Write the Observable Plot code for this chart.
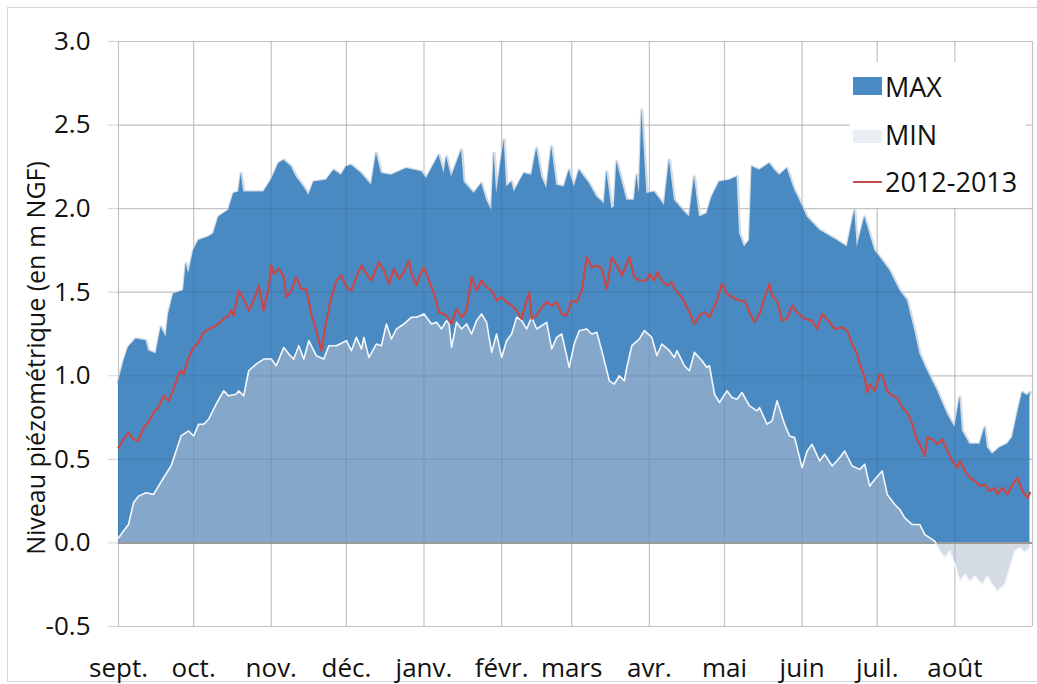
<!DOCTYPE html>
<html><head><meta charset="utf-8">
<script src="https://cdn.jsdelivr.net/npm/d3@7"></script>
<script src="https://cdn.jsdelivr.net/npm/@observablehq/plot@0.6"></script>
<style>
body{margin:0;background:#fff;font-family:"Open Sans",sans-serif;}
#wrap{position:relative;width:1037px;height:684px;overflow:hidden;}
#frame{position:absolute;left:7px;top:7px;width:1040px;height:675px;border:1px solid #d6d6d6;box-sizing:border-box;}
#chart{position:absolute;left:0;top:0;}
#ytitle{position:absolute;left:35px;top:358px;transform:translate(-50%,-50%) rotate(-90deg);white-space:nowrap;font-size:25px;color:#111;}
#legend{position:absolute;left:850px;top:62px;width:176px;height:146px;background:#fff;color:#111;font-size:27px;}
#legend .sw{position:absolute;left:3px;width:29px;}
#legend .lb{position:absolute;left:35px;height:36px;line-height:36px;}
</style>
</head><body>
<div id="wrap"><div id="frame"></div><div id="chart"></div>
<div id="ytitle">Niveau piézométrique (en m NGF)</div>
<div id="legend">
  <div class="sw" style="top:15px;height:18px;background:#4a8ac3"></div><div class="lb" style="top:7px">MAX</div>
  <div class="sw" style="top:68px;height:13px;background:#e9eef4"></div><div class="lb" style="top:55px">MIN</div>
  <div class="sw" style="top:119px;height:2px;background:#c0504d"></div><div class="lb" style="top:102px">2012-2013</div>
</div>
</div>
<script>
const monthLabels = ["sept.","oct.","nov.","déc.","janv.","févr.","mars","avr.","mai","juin","juil.","août"];
const yTicks = [-0.5,0,0.5,1,1.5,2,2.5,3];
const seasonStart = "2012-09-01";

const maxDays = [0,2,4,7,11,12,15,17,19,20,22,26,27,28,30,32,36,38,40,44,46,48,49,50,53,58,61,64,66,69,71,74,76,78,83,86,89,91,93,97,101,103,105,109,115,121,123,128,130,131,133,137,138,142,145,147,149,150,151,154,155,157,158,162,165,167,169,171,173,175,178,180,182,184,188,191,194,195,197,198,199,203,206,207,208,209,211,214,218,220,222,226,228,230,232,235,237,240,244,247,248,250,252,253,256,260,262,264,267,270,272,275,280,287,291,294,295,298,302,304,308,312,315,318,320,323,327,331,334,336,337,340,344,346,347,349,352,355,357,359,361,363,364];
const maxValues = [0.96,1.08,1.17,1.22,1.21,1.15,1.13,1.29,1.23,1.37,1.49,1.51,1.67,1.61,1.75,1.81,1.83,1.85,1.95,1.99,2.09,2.10,2.21,2.10,2.10,2.10,2.17,2.27,2.29,2.25,2.19,2.13,2.08,2.16,2.17,2.23,2.20,2.25,2.26,2.21,2.14,2.33,2.21,2.20,2.24,2.22,2.18,2.32,2.21,2.31,2.19,2.35,2.16,2.09,2.15,2.05,1.99,2.33,2.09,2.41,2.13,2.16,2.10,2.21,2.20,2.36,2.19,2.12,2.37,2.14,2.13,2.23,2.13,2.23,2.15,2.07,2.03,2.22,2.00,2.01,2.28,2.05,2.05,2.20,2.09,2.59,2.09,2.10,2.02,2.29,2.05,1.98,1.95,2.19,1.95,1.97,2.07,2.16,2.17,2.19,1.85,1.77,1.81,2.25,2.23,2.27,2.23,2.20,2.24,2.11,2.05,1.95,1.87,1.81,1.77,1.99,1.77,1.95,1.75,1.71,1.63,1.51,1.45,1.27,1.13,1.03,0.91,0.77,0.69,0.87,0.67,0.59,0.59,0.69,0.57,0.53,0.57,0.59,0.63,0.77,0.90,0.88,0.90];

const minDays = [0,1,4,6,8,11,14,16,18,21,23,25,28,30,32,34,36,39,42,44,47,48,50,52,55,58,61,63,66,68,70,72,74,76,79,82,84,87,91,93,95,97,98,100,103,105,107,109,111,114,117,119,122,125,127,129,131,132,133,135,137,139,141,143,145,147,149,151,153,155,157,159,161,163,165,167,169,171,173,175,177,180,182,184,187,189,191,193,196,198,200,202,203,205,208,210,213,215,217,220,222,223,226,228,230,233,235,236,238,240,243,245,247,249,252,255,256,259,261,263,266,268,270,273,275,277,280,282,285,288,290,293,296,298,300,302,305,307,310,312,314,317,320,322,324,326,328,330,332,334,336,338,340,342,345,347,349,351,354,356,358,360,362,364];
const minValues = [0.03,0.05,0.11,0.24,0.28,0.30,0.29,0.34,0.39,0.46,0.55,0.64,0.67,0.64,0.71,0.71,0.74,0.83,0.91,0.88,0.89,0.91,0.88,1.03,1.07,1.10,1.10,1.06,1.17,1.13,1.10,1.18,1.10,1.21,1.12,1.10,1.18,1.18,1.21,1.15,1.23,1.16,1.23,1.11,1.19,1.18,1.31,1.22,1.28,1.31,1.35,1.35,1.37,1.31,1.32,1.28,1.33,1.31,1.17,1.32,1.28,1.31,1.25,1.33,1.37,1.32,1.14,1.25,1.11,1.21,1.25,1.35,1.33,1.28,1.35,1.28,1.30,1.32,1.16,1.23,1.25,1.05,1.19,1.27,1.28,1.25,1.26,1.15,0.97,0.95,1.00,0.97,1.05,1.18,1.22,1.27,1.23,1.12,1.19,1.15,1.11,1.15,1.06,1.03,1.14,1.09,1.05,1.06,0.89,0.84,0.91,0.87,0.86,0.90,0.82,0.79,0.81,0.71,0.73,0.85,0.71,0.64,0.63,0.45,0.55,0.59,0.49,0.53,0.46,0.51,0.55,0.46,0.44,0.47,0.34,0.38,0.43,0.29,0.23,0.20,0.15,0.11,0.11,0.05,0.03,0.01,-0.05,-0.09,-0.05,-0.13,-0.23,-0.19,-0.23,-0.20,-0.25,-0.20,-0.25,-0.29,-0.25,-0.15,-0.05,-0.03,-0.06,-0.03];

const yearDays = [0,2,4,6,8,10,12,14,16,18,20,22,24,25,26,28,30,32,34,36,39,42,44,45,46,48,50,52,54,56,58,60,61,62,64,66,67,69,71,73,75,77,79,81,83,85,87,89,91,93,95,97,99,101,104,106,108,110,112,114,116,117,119,120,122,124,126,128,131,133,135,137,139,141,143,145,147,149,151,153,155,157,159,161,162,164,165,167,169,171,173,175,177,179,181,183,185,187,189,191,193,195,197,199,201,204,206,208,211,212,214,215,217,219,221,222,225,228,230,232,234,236,239,241,243,245,248,250,252,254,256,258,260,261,263,265,267,269,271,274,277,279,281,284,286,289,291,293,295,296,298,299,300,302,304,305,307,309,311,313,315,317,319,320,322,323,325,327,329,331,333,335,336,338,340,342,344,346,348,350,351,353,355,357,359,361,363,364];
const yearValues = [0.57,0.62,0.66,0.62,0.61,0.69,0.72,0.78,0.81,0.88,0.85,0.92,1.01,1.03,1.01,1.11,1.17,1.20,1.26,1.28,1.30,1.34,1.36,1.39,1.36,1.51,1.46,1.39,1.45,1.54,1.39,1.53,1.66,1.61,1.64,1.59,1.47,1.51,1.59,1.52,1.52,1.37,1.27,1.15,1.33,1.47,1.57,1.60,1.53,1.51,1.59,1.66,1.61,1.57,1.68,1.63,1.55,1.64,1.58,1.62,1.69,1.61,1.54,1.59,1.65,1.57,1.49,1.38,1.36,1.31,1.40,1.35,1.39,1.59,1.51,1.57,1.53,1.51,1.45,1.47,1.44,1.42,1.39,1.34,1.40,1.50,1.34,1.36,1.41,1.44,1.42,1.44,1.37,1.36,1.45,1.44,1.51,1.71,1.65,1.66,1.64,1.52,1.71,1.66,1.60,1.71,1.59,1.57,1.57,1.61,1.57,1.62,1.57,1.54,1.56,1.52,1.47,1.38,1.31,1.36,1.38,1.35,1.45,1.55,1.49,1.47,1.45,1.45,1.38,1.32,1.37,1.47,1.55,1.48,1.45,1.33,1.34,1.42,1.38,1.34,1.33,1.28,1.37,1.32,1.28,1.29,1.27,1.19,1.13,1.07,0.99,0.90,0.95,0.91,1.01,1.00,0.91,0.88,0.87,0.81,0.78,0.71,0.61,0.59,0.52,0.63,0.62,0.59,0.62,0.55,0.49,0.45,0.49,0.43,0.39,0.37,0.34,0.35,0.31,0.33,0.29,0.33,0.29,0.35,0.39,0.31,0.27,0.30];

const t0 = new Date(seasonStart + "T00:00:00Z");
const toDate = d => d3.utcDay.offset(t0, d);
const series = (days, vals) => days.map((d, i) => ({date: toDate(d), value: vals[i]}));
const maxData = series(maxDays, maxValues);
const minData = series(minDays, minValues);
const yearData = series(yearDays, yearValues);
const tEnd = d3.utcYear.offset(t0, 1);
const monthStarts = d3.utcMonth.range(t0, tEnd);
const gridDates = monthStarts.concat([tEnd]);

const chart = Plot.plot({
  width: 1037, height: 684,
  marginLeft: 118, marginRight: 5, marginTop: 41, marginBottom: 58,
  style: {fontFamily: "'Open Sans', sans-serif", fontSize: "26px", color: "#111", background: "transparent"},
  x: {type: "utc", domain: [t0, tEnd]},
  y: {domain: [-0.5, 3.0]},
  marks: [
    Plot.ruleY(yTicks, {stroke: "#d4d4d4", strokeWidth: 1.2}),
    Plot.ruleX(gridDates, {stroke: "#d4d4d4", strokeWidth: 1.2}),
    Plot.lineY(maxData, {x: "date", y: "value", stroke: "#d3dbe4", strokeWidth: 3.5, curve: "linear"}),
    Plot.areaY(maxData, {x: "date", y1: 0, y2: "value", fill: "#4a8ac3"}),
    Plot.areaY(minData, {x: "date", y1: 0, y2: "value", fill: "rgb(180,191,206)", fillOpacity: 0.56}),
    Plot.ruleY(yTicks.filter(v => v !== 0), {stroke: "#000", strokeOpacity: 0.08, strokeWidth: 1.2}),
    Plot.ruleX(gridDates, {stroke: "#000", strokeOpacity: 0.08, strokeWidth: 1.2}),
    Plot.ruleY([0], {stroke: "#9a9a9a", strokeWidth: 2}),
    Plot.lineY(minData, {x: "date", y: "value", stroke: "#f4f8fc", strokeWidth: 1.6}),
    Plot.lineY(yearData, {x: "date", y: "value", stroke: "#c8484a", strokeWidth: 2.2}),
    Plot.axisY({ticks: yTicks, tickFormat: d => d.toFixed(1), tickSize: 10, stroke: "#d4d4d4", tickPadding: 18, label: null, fill: "#111"}),
    Plot.axisX({ticks: monthStarts, tickFormat: (d, i) => monthLabels[i], tickSize: 0, tickPadding: 32, label: null, fill: "#111"})
  ]
});
document.getElementById("chart").appendChild(chart);
</script>
</body></html>
